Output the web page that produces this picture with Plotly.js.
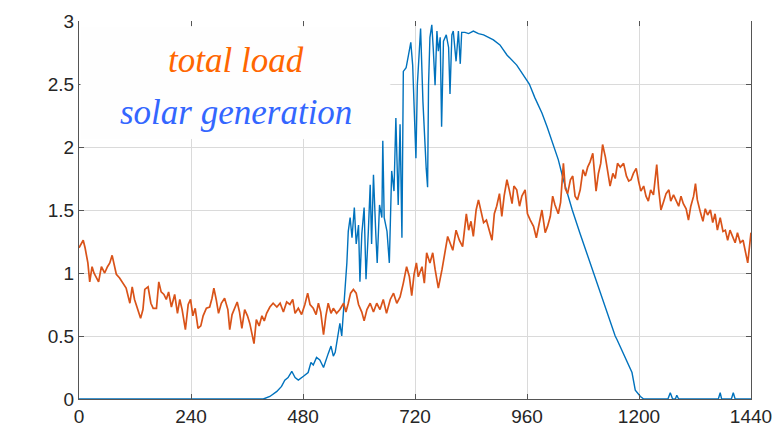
<!DOCTYPE html>
<html>
<head>
<meta charset="utf-8">
<script src="https://cdn.plot.ly/plotly-3.0.1.min.js"></script>
<style>
  html, body { margin: 0; padding: 0; background: #ffffff; }
  #chart { width: 780px; height: 429px; }
</style>
</head>
<body>
<div id="chart"></div>
<script>
// Minute of day (0..1440) and power for the household load
const loadMinutes = [0,9,13,19,23,28,32,37,42,48,55,61,66,71,75,80,87,94,101,109,114,119,126,132,137,141,148,154,159,166,171,176,182,187,192,198,205,211,216,221,228,234,239,244,249,255,261,266,273,280,285,289,294,299,305,312,319,323,328,334,339,344,349,355,361,366,371,375,380,
  386,392,397,402,409,416,424,431,438,445,452,458,463,470,477,484,490,495,502,508,513,518,524,529,534,540,545,552,559,567,572,577,582,588,594,599,606,611,617,624,631,638,645,652,659,667,674,681,688,695,702,708,
  713,718,723,727,735,740,745,752,758,763,770,778,785,790,795,801,808,815,822,830,835,840,845,851,856,861,867,873,877,885,890,895,901,906,911,917,922,928,932,938,944,949,956,961,967,974,980,985,992,999,1004,1010,1015,1020,1027,
  1032,1038,1042,1047,1053,1058,1063,1068,1074,1080,1085,1090,1095,1101,1108,1113,1118,1122,1128,1133,1138,1144,1149,1154,1160,1167,1173,1178,1183,1188,1194,1199,1204,1210,1215,1220,1225,1231,1238,1242,1247,1253,1258,1264,1268,1274,1280,1285,1290,1295,1301,1306,1311,1317,1321,1325,1331,1337,1342,1347,1353,1358,1363,1368,1374,1380,1385,1390,1395,1401,1406,1411,1417,1423,1428,1433,1440];
const loadValues = [1.20,1.26,1.20,1.08,0.93,1.05,1.00,0.97,0.93,1.05,1.00,1.05,1.08,1.14,1.07,0.99,0.96,0.92,0.88,0.76,0.89,0.79,0.71,0.64,0.71,0.87,0.89,0.76,0.72,0.72,0.93,0.85,0.83,0.79,0.85,0.73,0.83,0.68,0.79,0.71,0.55,0.75,0.79,0.66,0.72,0.56,0.58,0.66,0.72,0.73,0.80,0.88,0.79,0.68,0.76,0.80,0.71,0.55,0.67,0.72,0.77,0.69,0.56,0.71,0.66,0.60,0.51,0.44,0.63,
  0.58,0.66,0.62,0.68,0.73,0.76,0.73,0.76,0.69,0.77,0.75,0.79,0.68,0.72,0.67,0.75,0.84,0.75,0.72,0.67,0.76,0.69,0.51,0.66,0.76,0.68,0.72,0.68,0.71,0.76,0.69,0.76,0.84,0.87,0.84,0.75,0.69,0.62,0.71,0.76,0.69,0.76,0.71,0.79,0.68,0.79,0.84,0.76,0.81,0.92,1.05,0.97,
  0.82,0.99,1.08,0.97,1.05,0.92,1.16,1.08,1.16,1.03,0.88,1.03,1.18,1.29,1.24,1.18,1.34,1.26,1.21,1.47,1.34,1.41,1.29,1.50,1.58,1.50,1.40,1.42,1.37,1.26,1.47,1.53,1.63,1.45,1.61,1.74,1.66,1.55,1.69,1.66,1.53,1.61,1.66,1.47,1.42,1.37,1.28,1.37,1.50,1.32,1.37,1.45,1.61,1.54,1.47,
  1.56,1.87,1.67,1.63,1.74,1.77,1.61,1.58,1.66,1.82,1.77,1.84,1.88,1.95,1.65,1.79,1.87,2.02,1.92,1.79,1.69,1.79,1.75,1.87,1.84,1.87,1.77,1.73,1.74,1.79,1.83,1.73,1.65,1.69,1.61,1.57,1.66,1.62,1.86,1.67,1.50,1.57,1.63,1.66,1.57,1.62,1.57,1.53,1.61,1.55,1.51,1.42,1.53,1.61,1.71,1.58,1.49,1.41,1.51,1.46,1.50,1.40,1.47,1.34,1.44,1.33,1.34,1.26,1.34,1.29,1.24,1.32,1.24,1.26,1.16,1.08,1.32];

// Minute of day and power for the PV generation
const solarMinutes = [0,395,409,424,434,441,448,456,463,470,481,491,497,502,509,516,524,529,534,540,545,549,554,559,563,567,570,574,577,581,585,590,594,599,602,606,611,615,620,624,627,631,636,639,644,649,651,654,660,665,670,675,679,684,688,692,695,701,706,711,715,718,722,725,729,732,737,740,744,747,749,752,756,759,763,767,770,774,777,781,787,792,795,799,802,808,813,817,820,827,835,845,856,867,878,888,902,917,938,952,965,977,992,1003,1017,1027,1038,1057,1074,1095,1117,1138,1149,1153,1167,1185,1192,1203,1210,1262,1267,1272,1278,1281,1285,1370,1374,1377,1398,1402,1406,1440];
const solarValues = [0,0,0.02,0.06,0.10,0.15,0.17,0.22,0.17,0.15,0.18,0.21,0.29,0.27,0.33,0.31,0.25,0.31,0.36,0.42,0.34,0.37,0.50,0.60,0.50,0.70,0.92,1.08,1.33,1.44,1.28,1.52,1.23,1.38,0.93,1.31,1.52,0.95,1.33,1.70,1.23,1.78,1.31,1.08,1.54,1.44,2.05,1.44,1.33,1.08,1.81,1.65,2.23,1.54,2.18,1.28,2.60,2.63,2.73,2.83,2.65,2.28,1.91,2.49,2.71,2.94,2.36,2.10,1.83,1.68,2.49,2.87,2.97,2.79,2.49,2.92,2.76,2.87,2.16,2.84,2.89,2.79,2.42,2.89,2.92,2.68,2.92,2.66,2.91,2.91,2.90,2.92,2.90,2.89,2.87,2.85,2.81,2.73,2.65,2.57,2.50,2.39,2.27,2.16,2.00,1.90,1.74,1.50,1.31,1.08,0.85,0.61,0.50,0.47,0.36,0.21,0.07,0.02,0,0,0.05,0,0,0.03,0,0,0.05,0,0,0.05,0,0];

const xTicks = [0, 240, 480, 720, 960, 1200, 1440];
const yTicks = [0, 0.5, 1, 1.5, 2, 2.5, 3];
const yTickText = ['0', '0.5', '1', '1.5', '2', '2.5', '3'];

const axisColor = '#555555';
const gridColor = '#dadada';
const boxColor = 'rgb(254,254,254)';
const tickFont = { family: 'Liberation Sans, Arial, sans-serif', size: 19, color: '#262626' };
const labelFont = 'Liberation Serif, Times New Roman, serif';

const traces = [
  {
    x: solarMinutes, y: solarValues, type: 'scatter', mode: 'lines',
    line: { color: '#0072BD', width: 1.4 }, hoverinfo: 'skip', showlegend: false
  },
  {
    x: loadMinutes, y: loadValues, type: 'scatter', mode: 'lines',
    line: { color: '#D95319', width: 1.7 }, hoverinfo: 'skip', showlegend: false
  },
  // empty trace so the top (tick-only) axis is rendered
  {
    x: [], y: [], xaxis: 'x2', yaxis: 'y', type: 'scatter', mode: 'lines',
    hoverinfo: 'skip', showlegend: false
  }
];

const layout = {
  width: 780, height: 429,
  margin: { l: 79, r: 29, t: 21, b: 30, pad: 0 },
  paper_bgcolor: '#ffffff', plot_bgcolor: '#ffffff',
  showlegend: false,
  xaxis: {
    range: [0, 1440], tickvals: xTicks, ticks: 'inside', ticklen: 5, tickcolor: axisColor,
    showline: true, linecolor: axisColor, linewidth: 1,
    showgrid: true, gridcolor: gridColor, gridwidth: 1, zeroline: false,
    tickfont: tickFont, fixedrange: true
  },
  xaxis2: {
    overlaying: 'x', side: 'top', anchor: 'y', range: [0, 1440], tickvals: xTicks,
    ticks: 'inside', ticklen: 5, tickcolor: axisColor, showticklabels: false,
    showline: false, showgrid: false, zeroline: false, fixedrange: true
  },
  yaxis: {
    range: [0, 3], tickvals: yTicks, ticktext: yTickText, ticks: 'inside', ticklen: 5, tickcolor: axisColor,
    showline: true, linecolor: axisColor, linewidth: 1, mirror: 'ticks',
    showgrid: true, gridcolor: gridColor, gridwidth: 1, zeroline: false,
    tickfont: tickFont, fixedrange: true
  },
  shapes: [
    {
      // backing panel behind the two labels, masking the grid
      type: 'rect', xref: 'paper', yref: 'paper', x0: 0.003, x1: 0.4625, y0: 0.689, y1: 0.984,
      fillcolor: boxColor, line: { width: 1, color: boxColor }, layer: 'above'
    }
  ],
  annotations: [
    {
      xref: 'x', yref: 'y', x: 336, y: 2.69, showarrow: false,
      text: '<i>total load</i>',
      font: { family: labelFont, size: 35, color: '#FF6600' }
    },
    {
      xref: 'x', yref: 'y', x: 336, y: 2.27, showarrow: false,
      text: '<i>solar generation</i>',
      font: { family: labelFont, size: 35, color: '#3366FF' }
    }
  ]
};

Plotly.newPlot('chart', traces, layout, { staticPlot: true, displayModeBar: false });
</script>
</body>
</html>
